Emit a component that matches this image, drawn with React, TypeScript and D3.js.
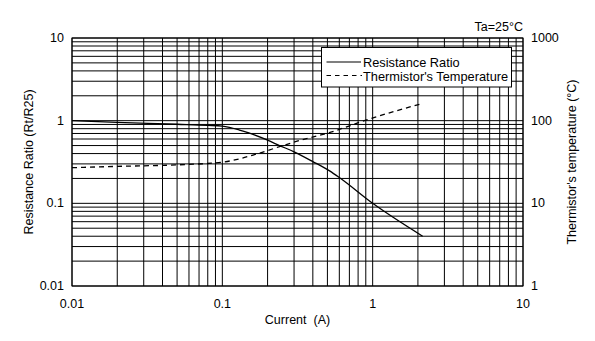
import React from "react";
import * as d3 from "d3";

const ratioCurrent = [0.01, 0.02, 0.05, 0.08, 0.1, 0.13, 0.15, 0.2, 0.24, 0.3, 0.4, 0.52, 0.6, 1.0, 2.15];
const ratioValues = [1.0, 0.955, 0.905, 0.878, 0.858, 0.77, 0.71, 0.58, 0.5, 0.42, 0.32, 0.245, 0.205, 0.1, 0.04];

const tempCurrent = [0.01, 0.02, 0.05, 0.1, 0.13, 0.16, 0.2, 0.24, 0.31, 0.52, 0.91, 2.15];
const tempValues = [27, 28, 29.2, 31.5, 34.5, 38.4, 43.5, 48.5, 56, 72, 102, 162];

const xTicks = [0.01, 0.1, 1, 10];
const xTickLabels = ["0.01", "0.1", "1", "10"];
const yLeftTicks = [0.01, 0.1, 1, 10];
const yLeftTickLabels = ["0.01", "0.1", "1", "10"];
const yRightTicks = [1, 10, 100, 1000];
const yRightTickLabels = ["1", "10", "100", "1000"];

const W = 595;
const H = 341;
const L = 72, R = 523, T = 38, B = 286;
const FONT = "'Liberation Sans', Arial, sans-serif";
const FS = 12.5;

function minorGrid(min: number, max: number): number[] {
  const out: number[] = [];
  for (let d = min; d < max * 0.999; d *= 10) {
    for (let k = 1; k <= 9; k++) out.push(d * k);
  }
  out.push(max);
  return out;
}

export default function App() {
  const x = d3.scaleLog().domain([0.01, 10]).range([L, R]);
  const yL = d3.scaleLog().domain([0.01, 10]).range([B, T]);
  const yR = d3.scaleLog().domain([1, 1000]).range([B, T]);

  const xGrid = minorGrid(0.01, 10);
  const yGrid = minorGrid(0.01, 10);

  const ratioLine = d3
    .line<number>()
    .x((_, i) => x(ratioCurrent[i]))
    .y((v) => yL(v))
    .curve(d3.curveMonotoneX)(ratioValues) as string;

  const tempLine = d3
    .line<number>()
    .x((_, i) => x(tempCurrent[i]))
    .y((v) => yR(v))
    .curve(d3.curveMonotoneX)(tempValues) as string;

  const lgX = 321.5, lgY = 47.5, lgW = 190, lgH = 39.5;

  return (
    <svg
      width={W}
      height={H}
      viewBox={`0 0 ${W} ${H}`}
      style={{ position: "absolute", left: 0, top: 0, background: "#fff" }}
      fontFamily={FONT}
    >
      <rect x={0} y={0} width={W} height={H} fill="#fff" />
      {/* grid */}
      <g stroke="#000" strokeWidth={1}>
        {xGrid.map((v, i) => (
          <line key={"gx" + i} x1={x(v)} x2={x(v)} y1={T} y2={B} />
        ))}
        {yGrid.map((v, i) => (
          <line key={"gy" + i} x1={L} x2={R} y1={yL(v)} y2={yL(v)} />
        ))}
      </g>
      <rect x={L} y={T} width={R - L} height={B - T} fill="none" stroke="#000" strokeWidth={1} />

      {/* curves */}
      <path d={ratioLine} fill="none" stroke="#000" strokeWidth={1.3} />
      <path d={tempLine} fill="none" stroke="#000" strokeWidth={1.3} strokeDasharray="5,4" />

      {/* legend */}
      <rect x={lgX} y={lgY} width={lgW} height={lgH} fill="#fff" stroke="#000" strokeWidth={1} />
      <line x1={326.5} x2={361} y1={62} y2={62} stroke="#000" strokeWidth={1.2} />
      <line x1={326.5} x2={362} y1={75.5} y2={75.5} stroke="#000" strokeWidth={1.2} strokeDasharray="4.5,4" />
      <text x={363} y={62} fontSize={12.8} dominantBaseline="central" fill="#000">Resistance Ratio</text>
      <text x={363} y={76} fontSize={12.8} dominantBaseline="central" fill="#000">Thermistor's Temperature</text>

      {/* x tick labels */}
      {xTicks.map((v, i) => (
        <text key={"xt" + i} x={x(v)} y={308} fontSize={FS} textAnchor="middle" fill="#000">
          {xTickLabels[i]}
        </text>
      ))}
      {/* left tick labels */}
      {yLeftTicks.map((v, i) => (
        <text key={"yl" + i} x={64} y={yL(v)} fontSize={FS} textAnchor="end" dominantBaseline="central" fill="#000">
          {yLeftTickLabels[i]}
        </text>
      ))}
      {/* right tick labels */}
      {yRightTicks.map((v, i) => (
        <text key={"yr" + i} x={531} y={yR(v)} fontSize={FS} textAnchor="start" dominantBaseline="central" fill="#000">
          {yRightTickLabels[i]}
        </text>
      ))}

      {/* axis titles */}
      <text x={(L + R) / 2} y={324} fontSize={FS} textAnchor="middle" fill="#000" style={{ whiteSpace: "pre" }}>
        {"Current  (A)"}
      </text>
      <text
        transform={`translate(29, ${(T + B) / 2}) rotate(-90)`}
        fontSize={FS}
        textAnchor="middle"
        dominantBaseline="central"
        fill="#000"
      >
        Resistance Ratio (Rt/R25)
      </text>
      <text
        transform={`translate(572, ${(T + B) / 2}) rotate(-90)`}
        fontSize={FS}
        textAnchor="middle"
        dominantBaseline="central"
        fill="#000"
      >
        Thermistor's temperature (°C)
      </text>
      <text x={523} y={31} fontSize={FS} textAnchor="end" fill="#000">
        Ta=25°C
      </text>
    </svg>
  );
}
